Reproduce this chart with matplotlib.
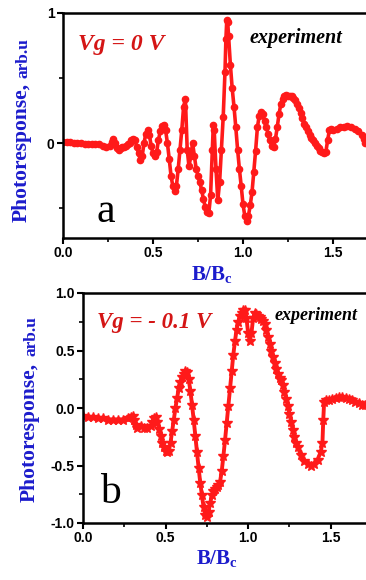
import matplotlib
matplotlib.use("Agg")
import matplotlib.pyplot as plt
from matplotlib.ticker import MultipleLocator, FormatStrFormatter

plt.rcParams['mathtext.fontset'] = 'custom'
plt.rcParams['mathtext.bf'] = 'Liberation Serif:bold'
plt.rcParams['mathtext.rm'] = 'Liberation Serif:bold'

# ---- Panel a data (Vg = 0 V) ----
xa = [0.00, 0.02, 0.04, 0.06, 0.08, 0.10, 0.12, 0.14, 0.16, 0.18, 0.20, 0.22,
      0.24, 0.26, 0.27, 0.28, 0.29, 0.30, 0.31, 0.32, 0.33, 0.34, 0.35, 0.36,
      0.37, 0.38, 0.39, 0.40, 0.41, 0.42, 0.43, 0.44, 0.45, 0.46, 0.47, 0.48,
      0.49, 0.50, 0.51, 0.52, 0.53, 0.54, 0.55, 0.56, 0.57, 0.58, 0.59, 0.60,
      0.61, 0.62, 0.63, 0.64, 0.65, 0.66, 0.67, 0.68, 0.69, 0.70, 0.71, 0.72,
      0.73, 0.74, 0.75, 0.76, 0.77, 0.78, 0.79, 0.80, 0.81, 0.82, 0.83, 0.835,
      0.84, 0.85, 0.86, 0.87, 0.88, 0.89, 0.90, 0.905, 0.91, 0.915, 0.92, 0.93,
      0.94, 0.95, 0.96, 0.97, 0.98, 0.99, 1.00, 1.01, 1.02, 1.03, 1.04, 1.05,
      1.06, 1.07, 1.08, 1.09, 1.10, 1.11, 1.12, 1.13, 1.14, 1.15, 1.16, 1.17,
      1.18, 1.19, 1.20, 1.21, 1.22, 1.23, 1.24, 1.25, 1.26, 1.27, 1.28, 1.29,
      1.30, 1.31, 1.32, 1.33, 1.34, 1.35, 1.36, 1.37, 1.38, 1.39, 1.40, 1.41,
      1.42, 1.43, 1.44, 1.45, 1.46, 1.47, 1.48, 1.49, 1.50, 1.52, 1.54, 1.56,
      1.58, 1.60, 1.62, 1.64, 1.66, 1.67, 1.68]
ya = [0.01, 0.01, 0.01, 0.00, 0.00, 0.00, -0.01, -0.01, -0.01, -0.01, -0.01, -0.02,
      -0.03, -0.02, 0.01, 0.03, 0.00, -0.04, -0.05, -0.04, -0.03, -0.03, -0.02, -0.01,
      0.00, 0.02, 0.03, 0.02, -0.03, -0.08, -0.13, -0.10, 0.00, 0.07, 0.10, 0.06,
      -0.02, -0.08, -0.10, -0.07, 0.02, 0.09, 0.13, 0.14, 0.10, 0.00, -0.12, -0.25,
      -0.33, -0.37, -0.33, -0.20, -0.05, 0.10, 0.28, 0.34, -0.05, -0.18, -0.10, 0.00,
      -0.10, -0.20, -0.25, -0.30, -0.36, -0.43, -0.49, -0.53, -0.54, -0.40, -0.05, 0.14,
      0.10, -0.20, -0.44, -0.30, -0.05, 0.20, 0.55, 0.80, 0.95, 0.93, 0.82, 0.60,
      0.42, 0.28, 0.12, -0.05, -0.20, -0.33, -0.47, -0.56, -0.60, -0.56, -0.48, -0.38,
      -0.22, -0.06, 0.12, 0.21, 0.24, 0.22, 0.17, 0.12, 0.07, 0.02, -0.02, -0.03,
      0.03, 0.12, 0.22, 0.30, 0.34, 0.36, 0.37, 0.36, 0.36, 0.36, 0.35, 0.33,
      0.30, 0.27, 0.23, 0.19, 0.15, 0.12, 0.09, 0.06, 0.04, 0.02, 0.00, -0.02,
      -0.04, -0.06, -0.07, -0.08, -0.07, 0.02, 0.10, 0.11, 0.10, 0.11, 0.12, 0.12,
      0.13, 0.12, 0.11, 0.09, 0.06, 0.03, 0.00]

# ---- Panel b data (Vg = -0.1 V) ----
xb = [0.00, 0.03, 0.06, 0.09, 0.12, 0.15, 0.18, 0.21, 0.24, 0.27, 0.29, 0.30,
      0.31, 0.32, 0.33, 0.35, 0.37, 0.39, 0.41, 0.42, 0.43, 0.44, 0.45, 0.46,
      0.47, 0.48, 0.49, 0.50, 0.51, 0.52, 0.53, 0.54, 0.55, 0.56, 0.57, 0.58,
      0.59, 0.60, 0.61, 0.62, 0.63, 0.64, 0.65, 0.66, 0.67, 0.68, 0.69, 0.70,
      0.71, 0.72, 0.73, 0.74, 0.75, 0.76, 0.77, 0.78, 0.79, 0.80, 0.81, 0.82,
      0.83, 0.84, 0.85, 0.86, 0.87, 0.88, 0.89, 0.90, 0.91, 0.92, 0.93, 0.94,
      0.95, 0.96, 0.97, 0.98, 0.99, 1.00, 1.01, 1.02, 1.03, 1.04, 1.05, 1.06,
      1.07, 1.08, 1.09, 1.10, 1.11, 1.12, 1.13, 1.14, 1.15, 1.16, 1.17, 1.18,
      1.19, 1.20, 1.21, 1.22, 1.23, 1.24, 1.25, 1.26, 1.27, 1.28, 1.29, 1.30,
      1.32, 1.34, 1.36, 1.38, 1.40, 1.42, 1.44, 1.45, 1.455, 1.46, 1.47, 1.49,
      1.51, 1.53, 1.55, 1.57, 1.59, 1.61, 1.63, 1.65, 1.67, 1.69, 1.71]
yb = [-0.07, -0.08, -0.08, -0.09, -0.09, -0.10, -0.10, -0.10, -0.10, -0.09, -0.08, -0.07,
      -0.10, -0.15, -0.17, -0.16, -0.17, -0.17, -0.16, -0.12, -0.09, -0.08, -0.12, -0.18,
      -0.24, -0.30, -0.34, -0.37, -0.38, -0.37, -0.30, -0.20, -0.10, 0.00, 0.09, 0.17,
      0.23, 0.27, 0.30, 0.32, 0.31, 0.25, 0.15, 0.03, -0.10, -0.24, -0.38, -0.52,
      -0.65, -0.76, -0.86, -0.93, -0.95, -0.90, -0.83, -0.76, -0.72, -0.70, -0.69, -0.67,
      -0.64, -0.55, -0.42, -0.28, -0.13, 0.02, 0.17, 0.32, 0.46, 0.58, 0.68, 0.75,
      0.80, 0.83, 0.85, 0.85, 0.78, 0.65, 0.58, 0.65, 0.78, 0.83, 0.82, 0.80,
      0.79, 0.77, 0.76, 0.73, 0.68, 0.62, 0.56, 0.50, 0.44, 0.39, 0.34, 0.30,
      0.26, 0.24, 0.20, 0.14, 0.08, 0.02, -0.05, -0.12, -0.19, -0.25, -0.30, -0.34,
      -0.41, -0.46, -0.49, -0.50, -0.49, -0.45, -0.38, -0.30, -0.10, 0.05, 0.07, 0.07,
      0.08, 0.09, 0.10, 0.10, 0.09, 0.08, 0.07, 0.05, 0.04, 0.03, 0.03]

W, H = 366, 580
fig = plt.figure(figsize=(W / 100, H / 100), dpi=100)

def px_axes(left, top, width, height):
    return fig.add_axes([left / W, 1 - (top + height) / H, width / W, height / H])

BLUE = '#1c1ccc'
RED = '#ff1a1a'
TXTRED = '#d41515'

def style(ax):
    for s in ax.spines.values():
        s.set_linewidth(1.8)
    ax.spines['right'].set_visible(False)
    ax.tick_params(which='major', direction='out', length=4, width=1.5, pad=2)
    ax.tick_params(which='minor', direction='out', length=3, width=1.2)
    ax.xaxis.set_major_locator(MultipleLocator(0.5))
    ax.xaxis.set_minor_locator(MultipleLocator(0.25))
    ax.set_xlim(0, 1.75)

# ---- Panel a ----
axa = px_axes(63, 13, 315, 225)
axa.plot(xa, ya, color=RED, lw=2.6, marker='o', ms=4.5, mec=RED, mfc=RED)
style(axa)
axa.set_ylim(-0.73, 1.0)
axa.yaxis.set_major_locator(MultipleLocator(1))
axa.yaxis.set_minor_locator(MultipleLocator(0.5))
axa.xaxis.set_major_formatter(FormatStrFormatter('%.1f'))
axa.yaxis.set_major_formatter(FormatStrFormatter('%d'))

# ---- Panel b ----
axb = px_axes(83, 293, 289, 230)
axb.plot(xb, yb, color=RED, lw=2.8, marker='*', ms=7, mec=RED, mfc=RED)
style(axb)
axb.set_ylim(-1.0, 1.0)
axb.yaxis.set_major_locator(MultipleLocator(0.5))
axb.yaxis.set_minor_locator(MultipleLocator(0.25))
axb.xaxis.set_major_formatter(FormatStrFormatter('%.1f'))
axb.yaxis.set_major_formatter(FormatStrFormatter('%.1f'))

for ax in (axa, axb):
    for lab in ax.get_xticklabels() + ax.get_yticklabels():
        lab.set_family('Liberation Sans')
        lab.set_weight('bold')
        lab.set_size(10)

def ftext(x, y, s, **kw):
    fig.text(x / W, 1 - y / H, s, **kw)

serif_b = dict(family='Liberation Serif', weight='bold')

# y labels
for (bx, y0, y1) in [(27, 222, 78), (35, 502, 356)]:
    ftext(bx, y0, 'Photoresponse,', rotation=90, rotation_mode='anchor',
          ha='left', va='baseline', color=BLUE, size=15.5, **serif_b)
    ftext(bx, y1, 'arb.u', rotation=90, rotation_mode='anchor',
          ha='left', va='baseline', color=BLUE, size=12.5, **serif_b)

# x labels
ftext(212, 280, r'$\mathbf{B/B_c}$', ha='center', va='baseline', color=BLUE, size=15)
ftext(217, 564, r'$\mathbf{B/B_c}$', ha='center', va='baseline', color=BLUE, size=15)

# annotations
ftext(78, 50, 'Vg = 0 V', color=TXTRED, size=17, family='Liberation Serif',
      weight='bold', style='italic', va='baseline')
ftext(250, 43, 'experiment', color='black', size=14.5, family='Liberation Serif',
      weight='bold', style='italic', va='baseline')
ftext(97, 222, 'a', color='black', size=30, family='Liberation Serif', va='baseline')

ftext(97, 328, 'Vg = - 0.1 V', color=TXTRED, size=16.5, family='Liberation Serif',
      weight='bold', style='italic', va='baseline')
ftext(275, 320, 'experiment', color='black', size=13, family='Liberation Serif',
      weight='bold', style='italic', va='baseline')
ftext(100, 503, 'b', color='black', size=30, family='Liberation Serif', va='baseline')

fig.savefig('out.png', dpi=100)
